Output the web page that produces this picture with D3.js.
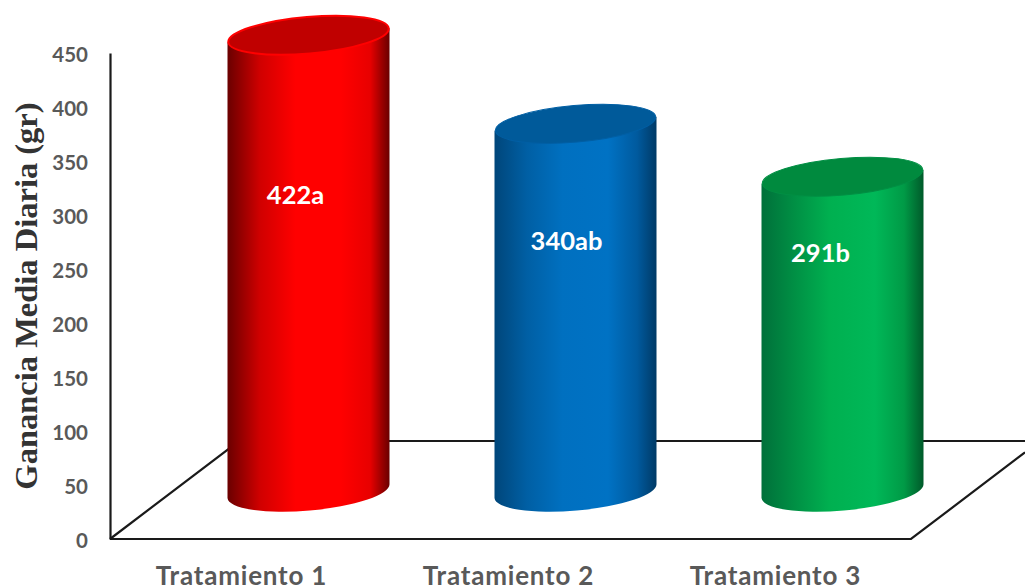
<!DOCTYPE html>
<html><head><meta charset="utf-8">
<style>html,body{margin:0;padding:0;background:#fff;overflow:hidden}svg{display:block}</style>
<script src="https://cdn.jsdelivr.net/npm/d3@7/dist/d3.min.js"></script></head>
<body><svg id="c" width="1025" height="586"></svg>
<script>
const categories = ["Tratamiento 1","Tratamiento 2","Tratamiento 3"];
const values = [422,340,291];
const valueLabels = ["422a","340ab","291b"];
const yTicks = [0,50,100,150,200,250,300,350,400,450];
const yTitle = "Ganancia Media Diaria (gr)";
const sideColors = [
 ["#6a0000","#d00000","#ff0000","#ff0000","#e80000","#6a0000"],
 ["#00467a","#005fa4","#0070c0","#0072c4","#005a9e","#003a66"],
 ["#00703a","#008f44","#00b050","#00b858","#009a46","#005a2a"]];
const sideStops = [0,0.2,0.42,0.7,0.88,1];
const capColors = ["#c00000","#005a9a","#008a3e"];
const rimColors = ["#ff0000","#005fa4","#008f44"];
const rimWidths = [2,1,1];
const labelDx = [-13,-9,-22];
const labelDy = [193.5,239.5,251.5];

const W=1025,H=586;
const x0=110,x1=911,floorShift=65,depth=48,rx=81,ry=19.5,tilt=-5,endDy=7;
const y=d3.scaleLinear().domain([0,450]).range([539,53]);
const x=d3.scaleBand().domain(categories).range([x0,x1]);
const svg=d3.select("#c");
const defs=svg.append("defs");
categories.forEach((c,i)=>{
  const g=defs.append("linearGradient").attr("id","g"+i);
  sideStops.forEach((s,j)=>g.append("stop").attr("offset",s).attr("stop-color",sideColors[i][j]));
});
const floor=svg.append("g").attr("fill","none").attr("stroke","#1a1a1a").attr("stroke-width",2.2);
const backY=441, slope=0.76;
floor.append("path").attr("d",`M${x0},${y(0)}L${x0+(y(0)-backY)/slope},${backY}L${W},${backY}`);
floor.append("path").attr("d",`M${x0},${y(0)}L${x1},${y(0)}L${W},${y(0)-(W-x1)*slope}`);
const ax=svg.append("g").attr("transform",`translate(${x0},0)`)
  .call(d3.axisLeft(y).tickValues(yTicks).tickSize(0).tickPadding(22));
ax.select(".domain").attr("stroke","#1a1a1a").attr("stroke-width",2.2);
ax.selectAll("text").attr("font-family","Lato").attr("font-weight",700).attr("font-size",20.5).attr("fill","#595959").attr("dy","0.42em");
const ax2=svg.append("g").attr("transform",`translate(0,${y(0)})`)
  .call(d3.axisBottom(x).tickSize(0).tickPadding(25));
ax2.select(".domain").remove();
ax2.selectAll("text").attr("font-family","Lato").attr("font-weight",700).attr("font-size",26).attr("letter-spacing",0.8).attr("fill","#595959").attr("dy",0).attr("y",45.5).attr("dx",-2);
svg.append("text").attr("transform","translate(37,296) rotate(-90)").attr("text-anchor","middle")
 .attr("font-family","Liberation Serif").attr("font-weight",700).attr("font-size",32.5).attr("fill","#333").text(yTitle);
const bars=svg.selectAll("g.bar").data(values).join("g").attr("class","bar");
bars.each(function(v,i){
  const g=d3.select(this);
  const cx=x(categories[i])+x.bandwidth()/2+floorShift;
  const by=y(0)-depth, ty=y(v)-depth;
  const L=cx-rx,R=cx+rx;
  g.append("path").attr("fill",`url(#g${i})`)
   .attr("d",`M${L},${ty+endDy}L${L},${by+endDy}A${rx},${ry} ${tilt} 0 0 ${R},${by-endDy}L${R},${ty-endDy}Z`);
  g.append("ellipse").attr("cx",cx).attr("cy",ty).attr("rx",rx-0.5).attr("ry",ry-1.2)
   .attr("transform",`rotate(${tilt} ${cx} ${ty})`)
   .attr("fill",capColors[i]).attr("stroke",rimColors[i]).attr("stroke-width",rimWidths[i]);
  g.append("text").attr("x",cx+labelDx[i]).attr("y",labelDy[i]).attr("text-anchor","middle").attr("dominant-baseline","central")
   .attr("font-family","Lato").attr("font-weight",700).attr("font-size",25.5).attr("fill","#fff").text(valueLabels[i]);
});
</script></body></html>
